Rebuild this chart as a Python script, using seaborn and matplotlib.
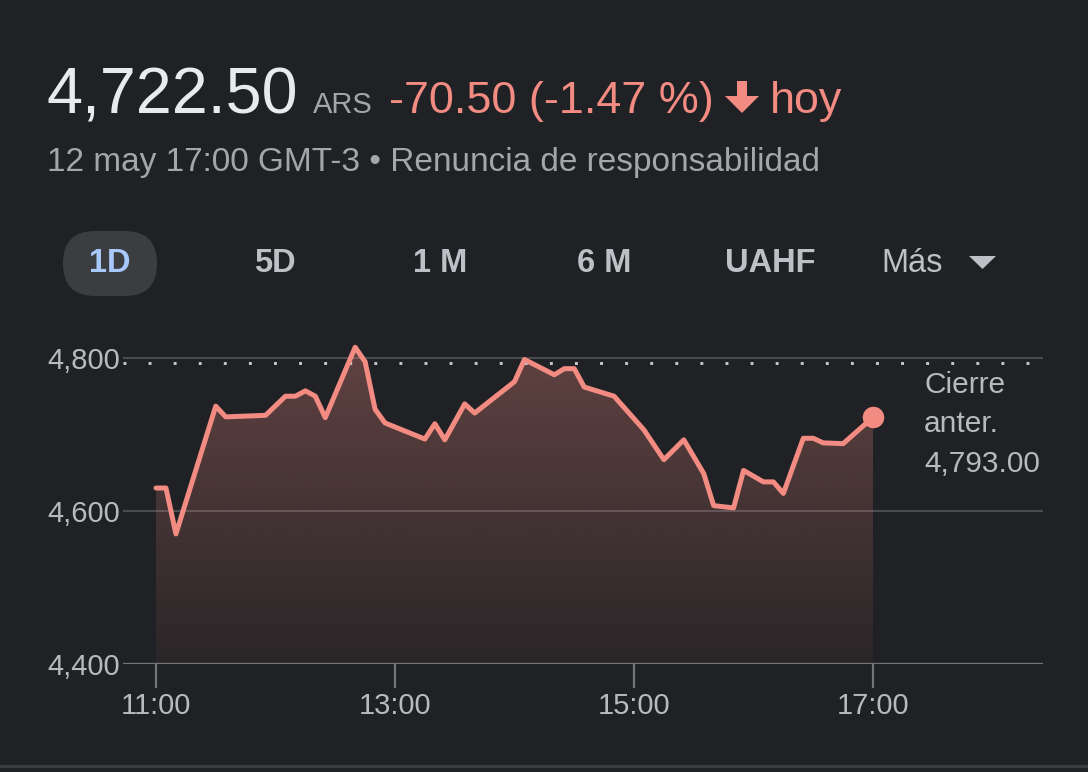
"""
plot.py - intraday quote card (1D view), dark theme
"""

import matplotlib
matplotlib.use("Agg")
import numpy as np
import pandas as pd
import matplotlib.pyplot as plt
import seaborn as sns
from matplotlib.colors import to_rgb
from matplotlib.patches import FancyBboxPatch, Polygon

# ── Data ──────────────────────────────────────────────────────────────────────
times = ["11:00", "11:05", "11:10", "11:30", "11:35", "11:55", "12:05", "12:10",
         "12:15", "12:20", "12:25", "12:40", "12:45", "12:50", "12:55", "13:15",
         "13:20", "13:25", "13:35", "13:40", "14:00", "14:05", "14:20", "14:25",
         "14:30", "14:35", "14:50", "15:05", "15:15", "15:25", "15:35", "15:40",
         "15:50", "15:55", "16:05", "16:10", "16:15", "16:25", "16:30", "16:35",
         "16:45", "17:00"]
prices = [4630, 4630, 4570, 4737, 4723, 4725, 4750, 4750,
          4757, 4750, 4722, 4814, 4795, 4733, 4715, 4694,
          4714, 4693, 4740, 4728, 4769, 4798, 4778, 4786,
          4786, 4762, 4750, 4706, 4667, 4693, 4649, 4607,
          4604, 4653, 4638, 4638, 4623, 4695, 4695, 4689,
          4688, 4722.50]

prev_close = 4793.00
change = -70.50
change_pct = -1.47
y_ticks = [4400, 4600, 4800]
x_ticks = ["11:00", "13:00", "15:00", "17:00"]
tabs = ["1D", "5D", "1 M", "6 M", "UAHF", "Más"]

# ── Style ─────────────────────────────────────────────────────────────────────
BG = "#202124"
LINE = "#f28b82"
GRID = "#4a4b4f"
AXIS = "#737478"
WHITE = "#e8eaed"
GREY = "#a4a6aa"
TICK_TXT = "#b8babe"
TAB_TXT = "#bdc1c6"
BLUE = "#a8c7fa"

sns.set_theme(style="ticks", rc={"figure.facecolor": BG, "axes.facecolor": BG})
plt.rcParams["font.family"] = ["Liberation Sans", "DejaVu Sans"]


def to_hours(s):
    h, m = s.split(":")
    return int(h) + int(m) / 60


df = pd.DataFrame({"hour": [to_hours(t) for t in times], "price": prices})

W, H = 1088, 772
fig = plt.figure(figsize=(W / 100, H / 100), dpi=100, facecolor=BG)

# overlay in pixel units for the header / tabs
over = fig.add_axes([0, 0, 1, 1])
over.set_xlim(0, W)
over.set_ylim(H, 0)
over.axis("off")

last = df["price"].iloc[-1]
over.text(46, 113, f"{last:,.2f}", fontsize=46.5, color=WHITE, va="baseline")
over.text(313, 113, "ARS", fontsize=21, color=GREY, va="baseline")
over.text(389, 113, f"{change:.2f} ({change_pct:.2f} %)", fontsize=32.3,
          color=LINE, va="baseline")
over.add_patch(Polygon([(737, 81), (747, 81), (747, 96), (759, 96), (742, 113),
                        (725, 96), (737, 96)], closed=True, color=LINE, lw=0))
over.text(770, 113, "hoy", fontsize=32.3, color=LINE, va="baseline")
over.text(47, 171, "12 may 17:00 GMT-3 • Renuncia de responsabilidad",
          fontsize=24, color=GREY, va="baseline")

# range tabs
over.add_patch(FancyBboxPatch((63, 231), 94, 65,
                              boxstyle="round,pad=0,rounding_size=32",
                              fc="#3c3d41", ec="none"))
tab_x = [110, 275, 440, 604, 770, 912]
for label, x in zip(tabs, tab_x):
    over.text(x, 264, label, fontsize=23.5,
              fontweight="bold" if label != "Más" else "normal",
              color=BLUE if label == "1D" else TAB_TXT, ha="center", va="center")
over.add_patch(Polygon([(969, 256), (996, 256), (982.5, 269)], closed=True,
                       color=TAB_TXT, lw=0))

over.text(924, 371, f"Cierre\nanter.\n{prev_close:,.2f}", fontsize=21.5,
          color=TICK_TXT, va="top", ha="left", linespacing=1.52)
over.axhline(766, color="#3c3d41", lw=2.2)

# ── Chart ─────────────────────────────────────────────────────────────────────
ax = fig.add_axes([123 / W, 1 - 664 / H, 920 / W, 329 / H])
ax.set_facecolor("none")

ylo, yhi = 4400, 4830
xlo, xhi = 11 - 33 / 119.5, 11 + 887 / 119.5

# gradient fill under the line
grad = np.zeros((256, 1, 4))
grad[..., :3] = to_rgb(LINE)
grad[:, 0, 3] = np.linspace(0.32, 0.05, 256)
im = ax.imshow(grad, extent=[df["hour"].min(), df["hour"].max(), ylo, yhi],
               aspect="auto", origin="upper", zorder=2)
poly = ax.fill_between(df["hour"], df["price"], ylo, color="none", lw=0)
im.set_clip_path(poly.get_paths()[0], transform=ax.transData)

for y in y_ticks[1:]:
    ax.axhline(y, color=GRID, lw=1.5, zorder=1)
ax.axhline(y_ticks[0], color=AXIS, lw=2.4, zorder=3)
ax.axhline(prev_close, xmin=0, xmax=0.985, color="#c8c9cc", lw=2.1,
           linestyle=(0, (1, 7.6)), zorder=3)

sns.lineplot(data=df, x="hour", y="price", color=LINE, lw=3.6, ax=ax, zorder=4)
ax.scatter([df["hour"].iloc[-1]], [last], s=240, color=LINE, lw=0, zorder=5)

ax.set_xlim(xlo, xhi)
ax.set_ylim(ylo, yhi)
ax.set_xticks([to_hours(t) for t in x_ticks], labels=x_ticks)
ax.set_yticks(y_ticks, labels=[f"{v:,}" for v in y_ticks])
ax.tick_params(axis="x", bottom=True, length=17, width=1.6, color=AXIS, pad=3,
               labelsize=21, labelcolor=TICK_TXT)
ax.tick_params(axis="y", left=True, length=0, pad=2, labelsize=21,
               labelcolor=TICK_TXT)
ax.set_xlabel("")
ax.set_ylabel("")
for spine in ax.spines.values():
    spine.set_visible(False)

plt.savefig("out.png", dpi=100, facecolor=fig.get_facecolor())
plt.close()
